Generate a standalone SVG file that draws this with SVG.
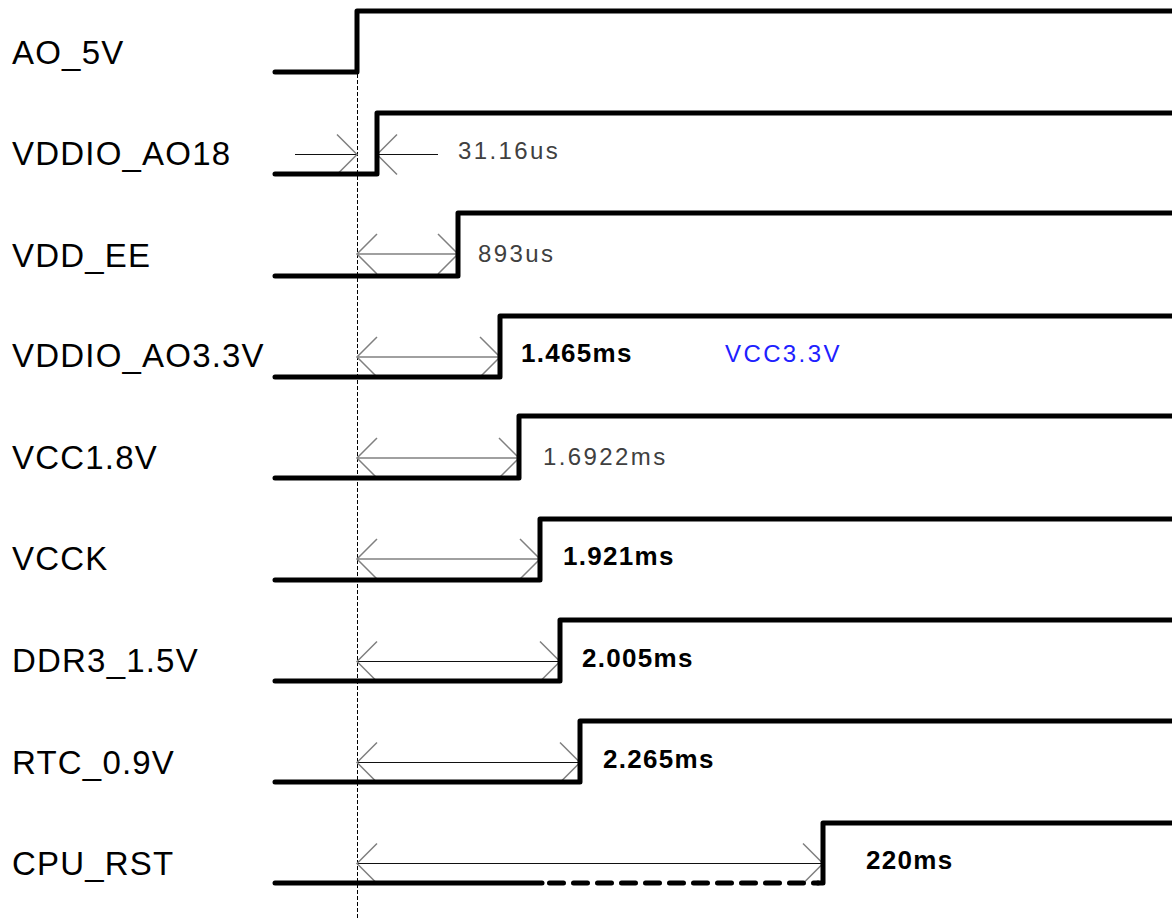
<svg xmlns="http://www.w3.org/2000/svg" width="1172" height="919" viewBox="0 0 1172 919">
<style>
.lbl{font-family:"Liberation Sans",Arial,sans-serif;font-size:33px;letter-spacing:1.2px;fill:#000}
.tr{font-family:"Liberation Sans",Arial,sans-serif;font-size:24px;letter-spacing:2.4px;fill:#404040}
.tb{font-family:"Liberation Sans",Arial,sans-serif;font-size:26px;font-weight:bold;letter-spacing:1.3px;fill:#000}
.blue{fill:#2020ff}
.sig{fill:none;stroke:#000;stroke-width:5;stroke-linejoin:round;stroke-linecap:round}
.dash{fill:none;stroke:#000;stroke-width:5;stroke-linecap:round;stroke-dasharray:14 10}
.ref{fill:none;stroke:#000;stroke-width:1;stroke-dasharray:4 2}
.dk{fill:none;stroke:#111;stroke-width:1;marker-end:url(#ah)}
.dk2{fill:none;stroke:#111;stroke-width:1;marker-start:url(#ah);marker-end:url(#ah)}
.lt{fill:none;stroke:#a0a0a0;stroke-width:2;marker-start:url(#ah);marker-end:url(#ah)}
</style>
<defs>
<marker id="ah" markerUnits="userSpaceOnUse" markerWidth="30" markerHeight="50" refX="0" refY="0" orient="auto-start-reverse" overflow="visible">
<path d="M-20,-20 L0,0 L-20,20" fill="none" stroke="#808080" stroke-width="1.5"/>
</marker>
</defs>
<rect width="1172" height="919" fill="#fff"/>
<g id="connectors">
<line class="ref" x1="357.5" y1="74" x2="357.5" y2="919"/>
<line class="dk" x1="295" y1="154.5" x2="357" y2="154.5"/>
<line class="dk" x1="438" y1="154.5" x2="377" y2="154.5"/>
<line class="lt" x1="357" y1="254" x2="458" y2="254"/>
<line class="lt" x1="357" y1="357" x2="500" y2="357"/>
<line class="lt" x1="357" y1="458" x2="519" y2="458"/>
<line class="lt" x1="357" y1="559" x2="540" y2="559"/>
<line class="dk2" x1="357" y1="661.5" x2="560" y2="661.5"/>
<line class="dk2" x1="357" y1="762.5" x2="580" y2="762.5"/>
<line class="dk2" x1="357" y1="863.5" x2="823" y2="863.5"/>
</g>
<g id="AO_5V">
<text class="lbl" x="12" y="64">AO_5V</text>
<path class="sig" d="M275,72 H357 V11 H1175"/>
</g>
<g id="VDDIO_AO18">
<text class="lbl" x="12" y="165">VDDIO_AO18</text>
<path class="sig" d="M275,174 H377 V113 H1175"/>
<text class="tr" x="458" y="159">31.16us</text>
</g>
<g id="VDD_EE">
<text class="lbl" x="12" y="267">VDD_EE</text>
<path class="sig" d="M275,276 H458 V213 H1175"/>
<text class="tr" x="478" y="262">893us</text>
</g>
<g id="VDDIO_AO3.3V">
<text class="lbl" x="12" y="367">VDDIO_AO3.3V</text>
<path class="sig" d="M275,377 H500 V316 H1175"/>
<text class="tb" x="521" y="362">1.465ms</text>
<text class="tr blue" x="725" y="362">VCC3.3V</text>
</g>
<g id="VCC1.8V">
<text class="lbl" x="12" y="469">VCC1.8V</text>
<path class="sig" d="M275,478 H519 V416 H1175"/>
<text class="tr" x="543" y="465">1.6922ms</text>
</g>
<g id="VCCK">
<text class="lbl" x="12" y="570">VCCK</text>
<path class="sig" d="M275,580 H540 V519 H1175"/>
<text class="tb" x="563" y="565">1.921ms</text>
</g>
<g id="DDR3_1.5V">
<text class="lbl" x="12" y="672">DDR3_1.5V</text>
<path class="sig" d="M275,681 H560 V620 H1175"/>
<text class="tb" x="582" y="667">2.005ms</text>
</g>
<g id="RTC_0.9V">
<text class="lbl" x="12" y="774">RTC_0.9V</text>
<path class="sig" d="M275,782 H580 V721 H1175"/>
<text class="tb" x="603" y="768">2.265ms</text>
</g>
<g id="CPU_RST">
<text class="lbl" x="12" y="875">CPU_RST</text>
<path class="sig" d="M275,883 H542"/>
<path class="dash" d="M549.5,883 H818"/>
<path class="sig" d="M818,883 H823 V823 H1175"/>
<text class="tb" x="866" y="869">220ms</text>
</g>
</svg>
